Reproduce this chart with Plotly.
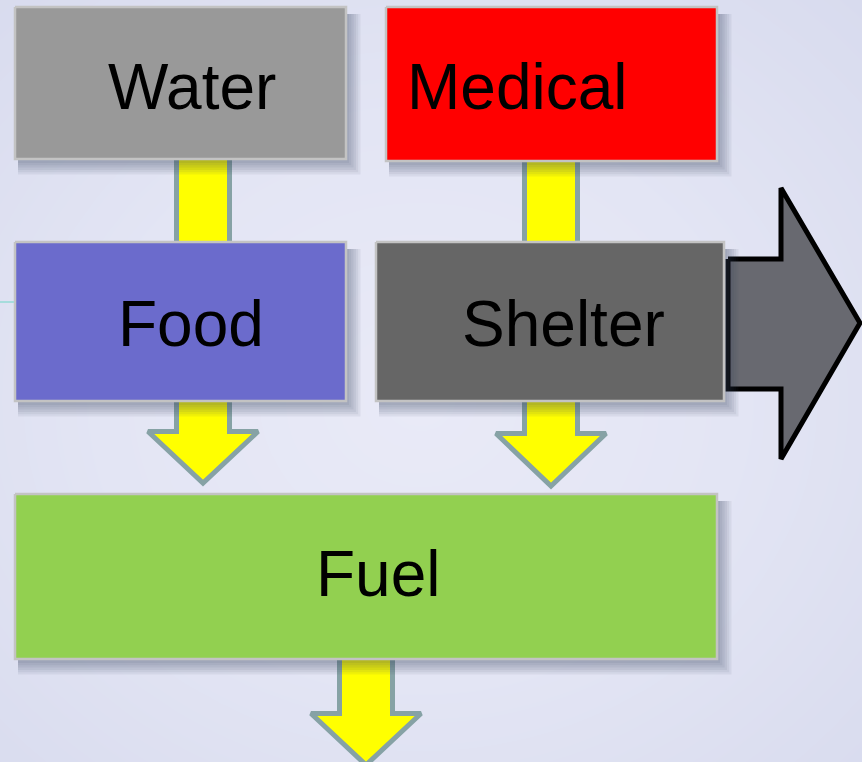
import numpy as np
import plotly.graph_objects as go

# ---- content ----
labels = ["Water", "Medical", "Food", "Shelter", "Fuel"]
box_colors = ["#999999", "#ff0000", "#6b6bcc", "#666666", "#92d050"]

# ---- layout geometry (pixels, y downward) ----
box_x0 = [14, 385, 14, 375, 14]
box_x1 = [347, 718, 347, 725, 718]
box_y0 = [6, 6, 241, 241, 493]
box_y1 = [160, 162, 402, 402, 660]
text_x = [191.5, 517.5, 191, 563, 378]
text_y = [86.5, 86.5, 323.5, 323.5, 574]

# connector bars (x left, x right, y top, y bottom)
bars = [(174, 232, 150, 250), (522, 580, 150, 250)]
# down arrows: shaft x0, x1, top, head y, head x0, head x1, tip x, tip y
down_arrows = [
    (174, 232, 395, 429, 144, 262, 203, 487),
    (522, 580, 395, 431, 492, 610, 551, 490),
    (337, 395, 655, 711, 307, 425, 366, 769),
]
# big right arrow: shaft x0, shaft top, shaft bottom, head x, head top, head bottom, tip x, tip y
big_arrow = (728, 259, 389, 781, 188, 459, 862, 323)

W, H = 862, 762
fig = go.Figure()

# background radial gradient
gx = np.linspace(0, W, 60)
gy = np.linspace(0, H, 60)
GX, GY = np.meshgrid(gx, gy)
dist = np.sqrt(((GX - 420) / W) ** 2 + ((GY - 400) / H) ** 2)
fig.add_trace(go.Heatmap(
    x=gx, y=gy, z=dist, zsmooth="best", showscale=False, hoverinfo="skip",
    colorscale=[[0, "#e9eaf7"], [0.5, "#e3e5f4"], [1, "#d8dbee"]],
))


def poly(xs, ys, fill, line_color, lw):
    fig.add_trace(go.Scatter(x=list(xs) + [xs[0]], y=list(ys) + [ys[0]], mode="lines",
                             fill="toself", fillcolor=fill,
                             line=dict(color=line_color, width=lw),
                             hoverinfo="skip", showlegend=False))


# connector bars
for x0, x1, t, b in bars:
    poly([x0 + 2.5, x1 - 2.5, x1 - 2.5, x0 + 2.5], [t, t, b, b], "#ffff00", "#86a2a5", 5)

# down arrows
for sx0, sx1, top, hy, hx0, hx1, tx, ty in down_arrows:
    xs = [sx0 + 2.5, sx1 - 2.5, sx1 - 2.5, hx1 - 4, tx, hx0 + 4, sx0 + 2.5]
    ys = [top, top, hy + 2.5, hy + 2.5, ty - 4, hy + 2.5, hy + 2.5]
    poly(xs, ys, "#ffff00", "#86a2a5", 5)

# big right arrow
sx0, st, sb, hx, ht, hb, tx, ty = big_arrow
poly([sx0, hx, hx, tx - 2, hx, hx, sx0], [st, st, ht, ty, hb, sb, sb], "#686970", "#000000", 5)

# box shadows (fake blur with stacked translucent rectangles), over arrows
for x0, x1, y0, y1 in zip(box_x0, box_x1, box_y0, box_y1):
    for i in range(6):
        g = 1 + i * 2.3
        poly([x0 + 4, x1 + 1 + g, x1 + 1 + g, x0 + 4],
             [y0 + 8, y0 + 8, y1 + 2 + g, y1 + 2 + g],
             "rgba(60,62,100,0.075)", "rgba(0,0,0,0)", 0)

# boxes
for lab, col, x0, x1, y0, y1 in zip(labels, box_colors, box_x0, box_x1, box_y0, box_y1):
    poly([x0 + 1, x1 - 1, x1 - 1, x0 + 1], [y0 + 1, y0 + 1, y1 - 1, y1 - 1], col, "#c3c3c3", 2.5)

# cyan stub line at left
fig.add_shape(type="line", xref="x", yref="y", x0=0, x1=14, y0=302, y1=302,
              line=dict(color="#a6dcdc", width=2), layer="above")

# labels
for lab, x, y in zip(labels, text_x, text_y):
    fig.add_annotation(x=x, y=y, xref="x", yref="y", text=lab, showarrow=False,
                       font=dict(family="Liberation Sans, Arial, sans-serif", size=64, color="#000000"),
                       xanchor="center", yanchor="middle")

fig.update_layout(
    width=W, height=H, margin=dict(l=0, r=0, t=0, b=0),
    paper_bgcolor="#e3e5f4", plot_bgcolor="#e3e5f4", showlegend=False,
    xaxis=dict(range=[0, W], visible=False, fixedrange=True),
    yaxis=dict(range=[H, 0], visible=False, fixedrange=True),
)

fig.write_html("out.html", config={"displayModeBar": False},
               post_script="document.body.style.margin='0';document.body.style.overflow='hidden';")
